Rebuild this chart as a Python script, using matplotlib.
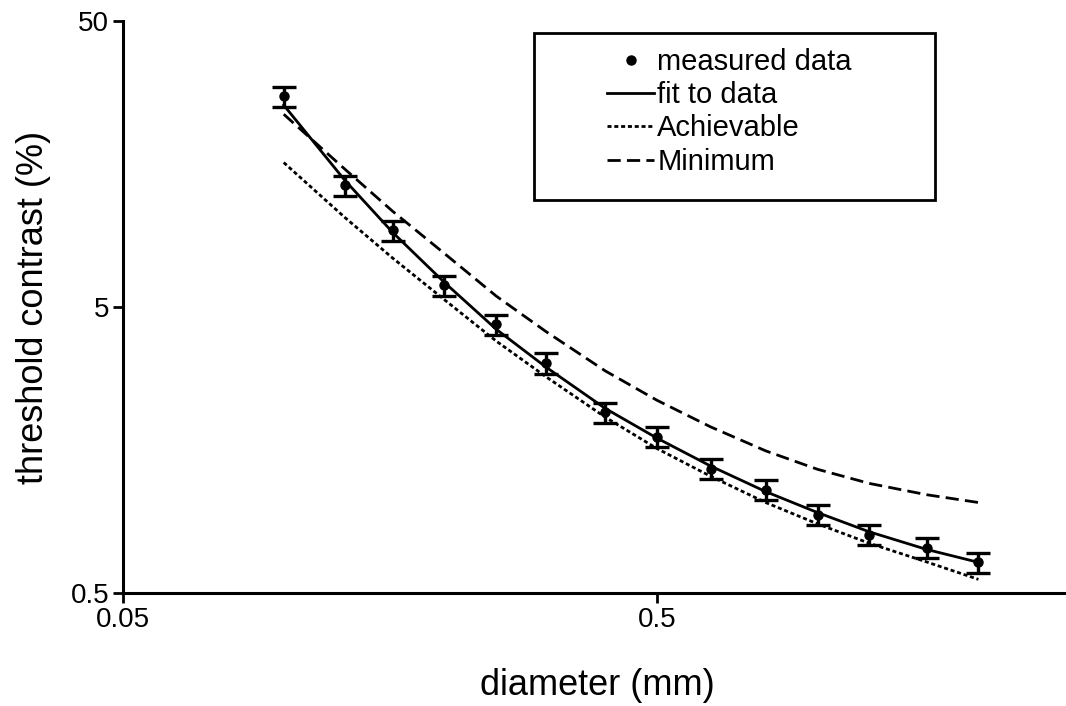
import numpy as np
import matplotlib
matplotlib.use('Agg')
import matplotlib.pyplot as plt
from matplotlib.patches import Rectangle
from matplotlib.ticker import FixedLocator, FixedFormatter, NullLocator

plt.rcParams['font.family'] = ['Liberation Sans', 'DejaVu Sans']
plt.rcParams['lines.scale_dashes'] = False

# diameters (mm) and threshold contrast (%)
diameter = [0.10, 0.13, 0.16, 0.20, 0.25, 0.31, 0.40, 0.50, 0.63, 0.80, 1.00, 1.25, 1.60, 2.00]
measured = [27.3, 13.3, 9.28, 5.95, 4.35, 3.18, 2.14, 1.76, 1.36, 1.15, 0.94, 0.80, 0.72, 0.64]
measured_err = [2.2, 1.07, 0.75, 0.48, 0.35, 0.26, 0.17, 0.14, 0.11, 0.092, 0.076, 0.064, 0.058, 0.052]
fit = [25.4, 13.9, 9.11, 6.09, 4.18, 3.08, 2.21, 1.74, 1.39, 1.13, 0.955, 0.818, 0.71, 0.64]
achievable = [16.0, 10.3, 7.41, 5.30, 3.80, 2.85, 2.06, 1.60, 1.28, 1.035, 0.872, 0.746, 0.642, 0.558]
minimum = [23.6, 15.2, 10.8, 7.69, 5.46, 4.10, 2.99, 2.36, 1.905, 1.569, 1.353, 1.208, 1.103, 1.036]

xticks = [0.05, 0.5]
xticklabels = ['0.05', '0.5']
yticks = [0.5, 5, 50]
yticklabels = ['0.5', '5', '50']

W, H = 1066, 706
fig = plt.figure(figsize=(W / 100, H / 100), dpi=100)
# axes placed so that x=0.05 sits at px 123 and y spans 0.5..50 over px 593..21
ax = fig.add_axes([123 / W, 1 - 593 / H, 1.778 * 534 / W, 572 / H])

LW = 2.0
markers, caps, bars = ax.errorbar(diameter, measured, yerr=measured_err, fmt='o', color='black',
                                  markersize=6.5, elinewidth=2.4, capsize=8.5, capthick=2.4, zorder=3)
fit_line, = ax.plot(diameter, fit, color='black', lw=LW)
ach_line, = ax.plot(diameter, achievable, color='black', lw=LW, dashes=(2.9, 2.0))
min_line, = ax.plot(diameter, minimum, color='black', lw=LW, dashes=(9.5, 4.5))

ax.set_xscale('log')
ax.set_yscale('log')
ax.set_xlim(0.05, 3.0)
ax.set_ylim(0.5, 50)

ax.xaxis.set_major_locator(FixedLocator(xticks))
ax.xaxis.set_major_formatter(FixedFormatter(xticklabels))
ax.yaxis.set_major_locator(FixedLocator(yticks))
ax.yaxis.set_major_formatter(FixedFormatter(yticklabels))
ax.xaxis.set_minor_locator(NullLocator())
ax.yaxis.set_minor_locator(NullLocator())

for s in ['top', 'right']:
    ax.spines[s].set_visible(False)
for s in ['left', 'bottom']:
    ax.spines[s].set_linewidth(2.2)
ax.tick_params(axis='both', which='major', direction='out', length=7, width=2.0,
               labelsize=20, pad=3, color='black')

ax.set_xlabel('diameter (mm)', fontsize=26, labelpad=25)
ax.set_ylabel('threshold contrast (%)', fontsize=26, labelpad=14)

# legend: frameless, with a separate box drawn around it
handles = [markers, fit_line, ach_line, min_line]
labels = ['measured data', 'fit to data', 'Achievable', 'Minimum']
fig.legend(handles, labels, loc='upper left', bbox_to_anchor=(607 / W, 1 - 48 / H),
           bbox_transform=fig.transFigure, frameon=False, fontsize=21,
           handlelength=1.62, handletextpad=0.1, labelspacing=0.18,
           borderpad=0, borderaxespad=0)
fig.patches.append(Rectangle((534 / W, 1 - 200 / H), (935 - 534) / W, (200 - 33) / H,
                             fill=False, edgecolor='black', linewidth=2.0,
                             transform=fig.transFigure, figure=fig))

fig.savefig('out.png', dpi=100)
